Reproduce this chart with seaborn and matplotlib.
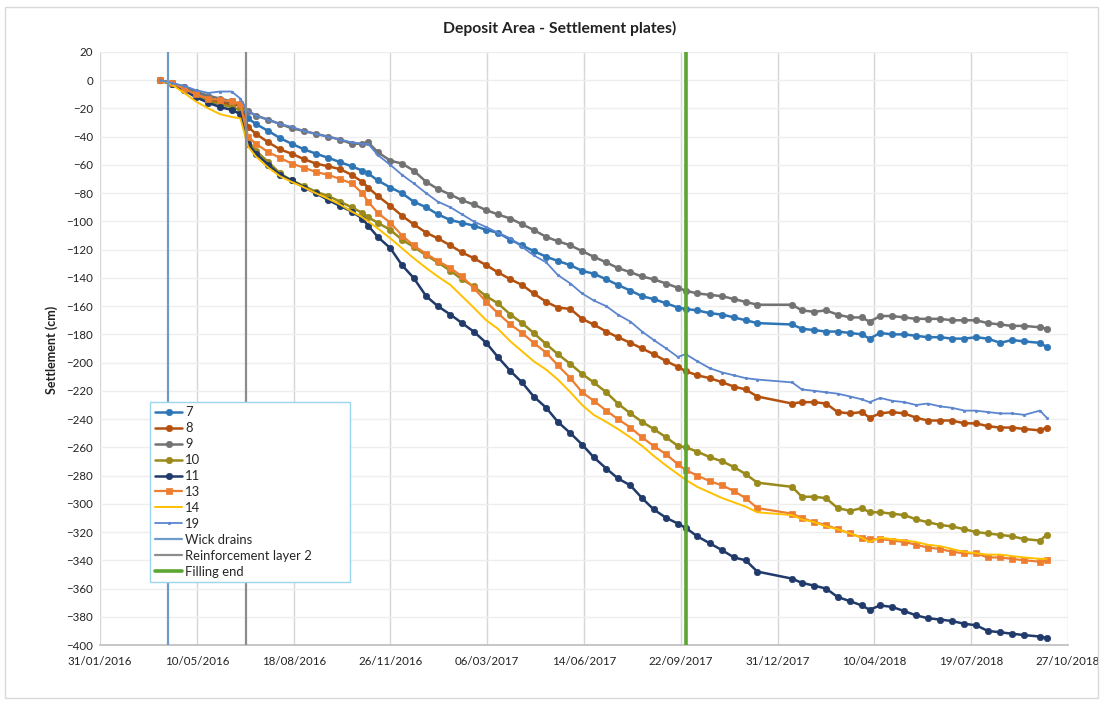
import numpy as np
import pandas as pd
import matplotlib
matplotlib.use("Agg")
import matplotlib.pyplot as plt
import matplotlib.dates as mdates
from matplotlib.patches import Rectangle
import seaborn as sns

# ---------------- data ----------------
base_date = "2016-01-31"
day_offsets = [62, 74, 87, 99, 112, 124, 136, 145, 153,
               161, 174, 186, 198, 211, 223, 236, 248, 260, 271, 277, 287, 300, 312, 324,
               337, 349, 362, 374, 386, 399, 411, 424, 436, 448, 461, 473, 486, 498, 510,
               523, 535, 548, 560, 572, 585, 597, 605, 617, 630, 643, 655, 667, 679,
               715, 725, 738, 750, 762, 775, 787, 795, 806, 818, 831, 843, 855, 868, 880,
               893, 905, 917, 930, 942, 955, 971, 978]

s7 = [0, -2, -5, -9, -13, -15, -16, -18, -27,
      -31, -36, -41, -45, -49, -52, -55, -58, -61, -64, -66, -71, -76, -80, -86,
      -90, -95, -99, -101, -103, -106, -108, -113, -117, -121, -125, -128, -131, -135, -137,
      -141, -145, -149, -153, -155, -158, -161, -162, -163, -165, -166, -168, -170, -172,
      -173, -176, -177, -178, -178, -179, -180, -183, -179, -180, -180, -181, -182, -182, -183,
      -183, -182, -183, -186, -184, -185, -186, -189]
s8 = [0, -2, -6, -10, -14, -16, -17, -18, -33,
      -38, -44, -49, -52, -56, -59, -61, -63, -67, -72, -76, -82, -89, -96, -102,
      -108, -112, -117, -122, -126, -131, -136, -141, -145, -151, -157, -161, -162, -169, -173,
      -178, -182, -186, -190, -194, -199, -203, -206, -209, -211, -214, -217, -219, -224,
      -229, -228, -228, -229, -235, -236, -235, -239, -236, -235, -236, -239, -241, -241, -241,
      -243, -243, -245, -246, -246, -247, -248, -246]
s9 = [0, -2, -5, -8, -11, -13, -15, -17, -22,
      -25, -28, -31, -34, -36, -38, -40, -42, -45, -45, -44, -51, -57, -59, -64,
      -72, -77, -81, -85, -88, -92, -95, -98, -102, -106, -111, -114, -117, -121, -125,
      -129, -133, -136, -139, -141, -144, -147, -149, -151, -152, -153, -155, -157, -159,
      -159, -163, -164, -163, -166, -168, -168, -171, -167, -167, -168, -169, -169, -169, -170,
      -170, -170, -172, -173, -174, -174, -175, -176]
s10 = [0, -3, -7, -11, -15, -17, -19, -21, -43,
       -50, -58, -66, -71, -75, -79, -82, -86, -90, -94, -97, -101, -106, -113, -118,
       -124, -129, -135, -141, -146, -153, -158, -166, -172, -179, -187, -194, -201, -208, -214,
       -221, -229, -236, -242, -247, -253, -259, -260, -263, -267, -270, -274, -279, -285,
       -288, -295, -295, -296, -303, -305, -303, -306, -306, -307, -308, -311, -313, -315, -316,
       -318, -320, -321, -322, -323, -325, -326, -322]
s11 = [0, -3, -7, -12, -16, -19, -21, -24, -45,
       -52, -60, -67, -71, -76, -80, -85, -89, -93, -98, -103, -111, -119, -131, -140,
       -153, -160, -166, -172, -178, -186, -196, -206, -214, -224, -232, -242, -250, -258, -267,
       -275, -282, -287, -296, -304, -310, -314, -317, -323, -328, -333, -338, -340, -348,
       -353, -356, -358, -360, -366, -369, -372, -375, -372, -373, -376, -379, -381, -382, -383,
       -385, -386, -390, -391, -392, -393, -394, -395]
s13 = [0, -2, -6, -10, -13, -14, -15, -17, -40,
       -45, -51, -55, -59, -62, -65, -67, -70, -73, -80, -86, -94, -101, -110, -117,
       -123, -128, -133, -139, -147, -157, -165, -173, -179, -186, -193, -202, -211, -221, -227,
       -234, -240, -246, -253, -259, -265, -272, -276, -280, -284, -287, -291, -296, -303,
       -307, -310, -313, -315, -318, -321, -324, -325, -325, -326, -327, -329, -331, -332, -334,
       -335, -335, -338, -338, -339, -340, -341, -340]
s14 = [0, -3, -9, -15, -20, -24, -26, -27, -47,
       -54, -62, -68, -72, -76, -80, -84, -88, -93, -97, -100, -105, -112, -119, -126,
       -133, -139, -145, -153, -161, -170, -176, -185, -192, -199, -205, -212, -221, -230, -237,
       -242, -247, -253, -259, -266, -273, -279, -283, -288, -292, -296, -299, -302, -306,
       -308, -311, -313, -316, -318, -321, -324, -327, -324, -325, -326, -327, -329, -330, -332,
       -334, -335, -336, -336, -337, -338, -339, -339]
s19 = [0, -2, -4, -7, -9, -8, -8, -13, -22,
       -25, -28, -31, -33, -36, -38, -40, -42, -44, -45, -45, -53, -60, -67, -73,
       -80, -86, -90, -95, -100, -104, -108, -112, -118, -124, -129, -138, -144, -151, -156,
       -160, -166, -171, -178, -184, -190, -196, -194, -199, -204, -207, -209, -211, -212,
       -214, -219, -220, -221, -222, -224, -226, -228, -225, -227, -228, -230, -229, -231, -232,
       -234, -234, -235, -236, -236, -237, -234, -239]

series_labels = ["7", "8", "9", "10", "11", "13", "14", "19"]
event_labels = ["Wick drains", "Reinforcement layer 2", "Filling end"]
event_days = [70, 151, 605]

y_ticks = list(range(-400, 21, 20))
x_tick_days = list(range(0, 1001, 100))

# ---------------- style ----------------
sns.set_theme(style="white")
plt.rcParams['font.family'] = ['Lato', 'DejaVu Sans']

fig = plt.figure(figsize=(11.05, 7.05), dpi=100)
ax = fig.add_axes([100 / 1105, 1 - 645 / 705, 968 / 1105, 593 / 705])

base = pd.Timestamp(base_date)
dates = base + pd.to_timedelta(day_offsets, unit="D")
df = pd.DataFrame({"date": dates, "7": s7, "8": s8, "9": s9, "10": s10,
                   "11": s11, "13": s13, "14": s14, "19": s19})

styles = {
    "7":  dict(color="#2E75B6", marker="o", markersize=4.6, linewidth=1.8),
    "8":  dict(color="#B4510F", marker="o", markersize=4.6, linewidth=1.8),
    "9":  dict(color="#727272", marker="o", markersize=4.6, linewidth=1.8),
    "10": dict(color="#9A8A1C", marker="o", markersize=4.6, linewidth=1.8),
    "11": dict(color="#203A6B", marker="o", markersize=4.6, linewidth=1.8),
    "13": dict(color="#ED7D31", marker="s", markersize=4.0, linewidth=1.6),
    "14": dict(color="#FFC000", marker=None, markersize=0, linewidth=1.4),
    "19": dict(color="#5B86CF", marker="o", markersize=1.8, linewidth=1.3),
}

for lab in series_labels:
    st = styles[lab]
    kw = dict(x="date", y=lab, data=df, ax=ax, color=st["color"],
              linewidth=st["linewidth"], label=lab)
    if st["marker"]:
        kw.update(marker=st["marker"], markersize=st["markersize"],
                  markeredgewidth=0.5, markeredgecolor=st["color"])
    sns.lineplot(**kw)

event_styles = [dict(color="#6F9BCB", lw=1.6), dict(color="#8C8C8C", lw=1.6),
                dict(color="#5CA632", lw=2.6)]
for lab, d, st in zip(event_labels, event_days, event_styles):
    ax.axvline(base + pd.Timedelta(days=d), label=lab, zorder=3, **st)

ax.set_xlim(base + pd.Timedelta(days=x_tick_days[0]), base + pd.Timedelta(days=x_tick_days[-1]))
ax.set_ylim(y_ticks[0], y_ticks[-1])
ax.set_yticks(y_ticks)
ax.set_xticks([base + pd.Timedelta(days=d) for d in x_tick_days])
ax.xaxis.set_major_formatter(mdates.DateFormatter("%d/%m/%Y"))

ax.grid(axis="x", color="#D6D6D6", linewidth=1.0)
ax.grid(axis="y", color="#EEEEEE", linewidth=1.0)
ax.set_axisbelow(True)
for s in ["top", "right", "left"]:
    ax.spines[s].set_visible(False)
ax.spines["bottom"].set_color("#BFBFBF")
ax.tick_params(axis="both", length=0, labelsize=8.3, colors="#222222", pad=5)
ax.tick_params(axis="x", pad=8)
ax.set_xlabel("")
ax.set_ylabel("")

fig.text(0.506, 1 - 28 / 705, "Deposit Area - Settlement plates)", ha="center", va="center",
         fontsize=11.3, fontweight="bold", color="#222222")
fig.text(52 / 1105, 1 - 350 / 705, "Settlement (cm)", ha="center", va="center",
         rotation=90, fontsize=9, fontweight="bold", color="#222222")

leg = ax.legend(loc="upper left", bbox_to_anchor=(0.052, 0.113, 0.206, 0.297), mode="expand",
                frameon=True, fancybox=False, edgecolor="#9DD6EC", framealpha=1,
                fontsize=9.4, handlelength=2.1, labelspacing=0.3, borderpad=0.35,
                handletextpad=0.2, borderaxespad=0)
leg.get_frame().set_linewidth(1.0)

fig.patches.append(Rectangle((5 / 1105, 1 - 698 / 705), 1093 / 1105, 691 / 705,
                             transform=fig.transFigure, fill=False,
                             edgecolor="#D9D9D9", linewidth=1.0))

fig.savefig("out.png", dpi=100)
